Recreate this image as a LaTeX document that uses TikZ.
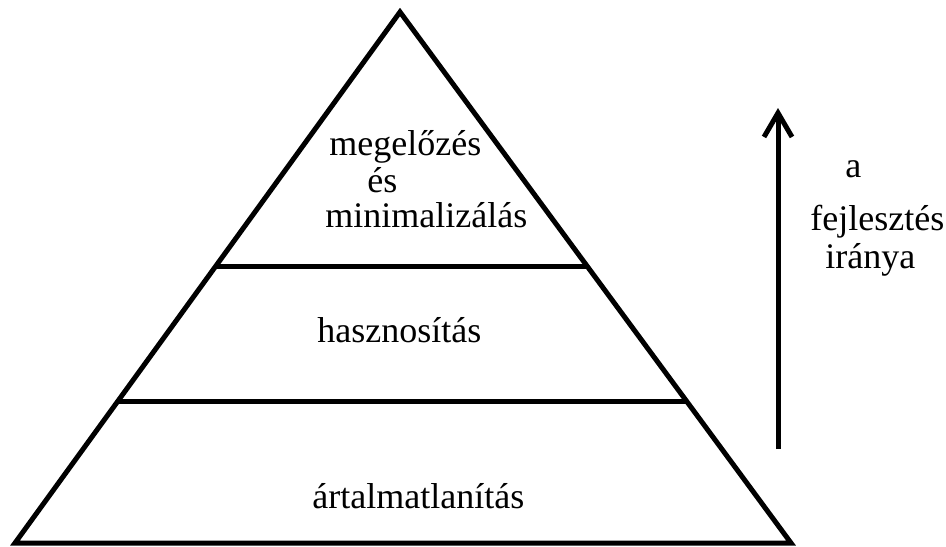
\documentclass[tikz,border=0pt]{standalone}
\usepackage{fontspec}
\setmainfont{Liberation Serif}
\usetikzlibrary{arrows.meta,calc}
\tikzset{tier line/.style={line width=2.5pt},
  tier text/.style={anchor=base west, inner sep=0pt, font=\fontsize{18}{22}\selectfont}}

\begin{document}
\begin{tikzpicture}[x=0.5pt,y=-0.5pt]
\useasboundingbox (0,0) rectangle (946,546);
\coordinate (top) at (400,12);
\coordinate (left) at (15,543);
\coordinate (right) at (791,543);
\draw [tier line, line join=miter] (top) -- (left) -- (right) -- cycle;
\draw [tier line] ($(top)!0.48!(left)$) -- ($(top)!0.48!(right)$);
\draw [tier line] ($(top)!0.733!(left)$) -- ($(top)!0.733!(right)$);
\coordinate (dir start) at (778,449);
\coordinate (dir end) at (778,108);
\draw [-{Straight Barb[length=12pt,width=14pt]}, line width=2.5pt] (dir start) -- (dir end);
\node [tier text] (prevent) at (329,155) {megelőzés};
\node [tier text] (and) at (367,192) {és};
\node [tier text] (minimize) at (325,227) {minimalizálás};
\node [tier text] (use) at (317,342) {hasznosítás};
\node [tier text] (dispose) at (312,508) {ártalmatlanítás};
\node [tier text] (dir a) at (845,177) {a};
\node [tier text] (dir b) at (810,230) {fejlesztés};
\node [tier text] (dir c) at (825,268) {iránya};
\end{tikzpicture}
\end{document}
